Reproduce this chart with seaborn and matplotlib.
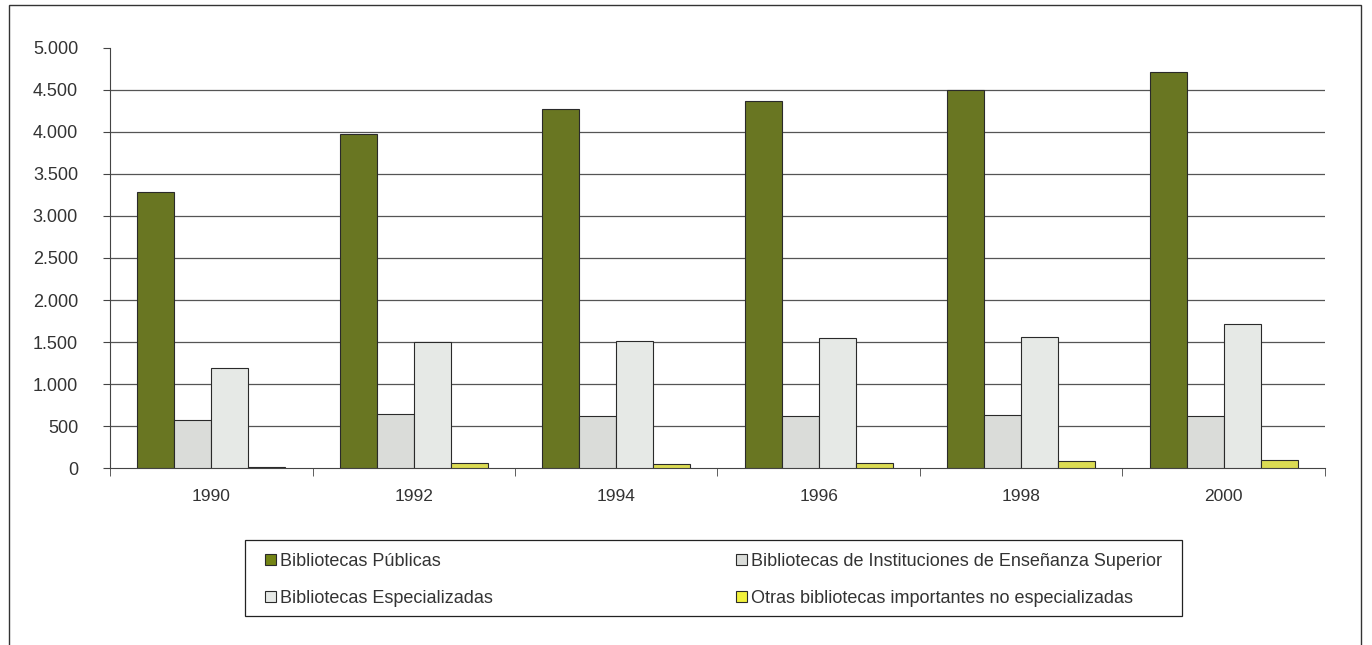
import pandas as pd
import matplotlib.pyplot as plt
import matplotlib.patches as mpatches
import matplotlib.ticker as ticker
import seaborn as sns

# DATA
years = ["1990", "1992", "1994", "1996", "1998", "2000"]
series = ["Bibliotecas Públicas",
          "Bibliotecas de Instituciones de Enseñanza Superior",
          "Bibliotecas Especializadas",
          "Otras bibliotecas importantes no especializadas"]
publicas = [3280, 3980, 4275, 4370, 4495, 4720]
ens_superior = [570, 645, 625, 625, 635, 625]
especializadas = [1190, 1500, 1515, 1545, 1560, 1715]
otras = [10, 55, 50, 65, 80, 90]
colors = ["#738414", "#dadcd9", "#e6e9e6", "#f2f23c"]

df = pd.DataFrame({"year": years * 4,
                   "serie": [s for s in series for _ in years],
                   "value": publicas + ens_superior + especializadas + otras})

# PLOT
sns.set_style("white")
plt.rcParams["font.family"] = ["Liberation Sans", "DejaVu Sans"]
plt.rcParams["text.color"] = "#333333"

fig = plt.figure(figsize=(13.72, 6.45), dpi=100)
ax = fig.add_axes([0.0802, 0.2744, 0.8855, 0.6512])

sns.barplot(data=df, x="year", y="value", hue="serie", order=years, hue_order=series,
            palette=colors, width=0.73, gap=0, edgecolor="#2a2a2a", linewidth=0.8,
            legend=False, ax=ax, zorder=3)

ax.set_ylim(0, 5000)
ax.set_xlim(-0.5, len(years) - 0.5)
ax.yaxis.set_major_locator(ticker.MultipleLocator(500))
ax.yaxis.set_major_formatter(ticker.FuncFormatter(lambda v, _: "{:,.0f}".format(v).replace(",", ".")))
for v in range(500, 5000, 500):
    ax.axhline(v, color="#555555", linewidth=0.9, zorder=1)

ax.set_xlabel("")
ax.set_ylabel("")
ax.tick_params(axis="y", labelsize=13, length=5, pad=18, color="#444444",
               labelcolor="#333333", direction="out", left=True)
ax.tick_params(axis="x", labelsize=12.5, length=0, pad=15, labelcolor="#333333")
ax.set_xticks([i - 0.5 for i in range(len(years) + 1)], minor=True)
ax.tick_params(axis="x", which="minor", length=6, color="#444444", bottom=True)
for side in ["top", "right"]:
    ax.spines[side].set_visible(False)
ax.spines["left"].set_color("#444444")
ax.spines["bottom"].set_color("#444444")

# legend: entries without frame, box drawn separately
handles = [mpatches.Patch(facecolor=c, edgecolor="#2a2a2a", linewidth=0.8, label=s)
           for s, c in zip(series, colors)]
order = [0, 2, 1, 3]
fig.legend([handles[i] for i in order], [series[i] for i in order],
           ncol=2, loc="upper left", bbox_to_anchor=(265 / 1372, 1 - 553 / 645),
           fontsize=13, frameon=False, borderpad=0, borderaxespad=0,
           handlelength=0.6, handleheight=0.6, handletextpad=0.25,
           columnspacing=13.45, labelspacing=1.1)
fig.patches.append(mpatches.Rectangle((245 / 1372, 1 - 616 / 645), 937 / 1372, 76 / 645,
                                      transform=fig.transFigure, fill=False,
                                      edgecolor="#222222", linewidth=0.9))

# outer frame of the chart
fig.patches.append(mpatches.Rectangle((9 / 1372, -0.01), 1352 / 1372, 1 - 5 / 645 + 0.01,
                                      transform=fig.transFigure, fill=False,
                                      edgecolor="#333333", linewidth=1))

fig.savefig("out.png", dpi=100)
